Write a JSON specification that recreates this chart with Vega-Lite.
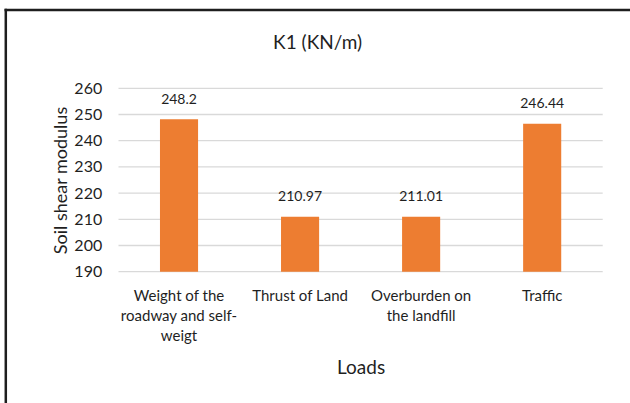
{
  "$schema": "https://vega.github.io/schema/vega-lite/v6.json",
  "width": 624.7,
  "height": 393.5,
  "autosize": "none",
  "padding": {"left": 5.3, "top": 9.5, "right": 0, "bottom": 0},
  "background": "white",
  "view": {"stroke": "transparent", "strokeWidth": 0, "fill": "white"},
  "title": {"text": "K1 (KN/m)", "font": "Lato", "fontSize": 19, "fontWeight": "normal", "color": "#1f1f1f", "anchor": "middle", "frame": "group", "baseline": "middle", "offset": -52},
  "config": {"font": "Lato", "view": {"stroke": "transparent", "strokeWidth": 0}},
  "resolve": {"axis": {"x": "independent", "y": "independent"}},
  "datasets": {
    "moduli": [
      {"load": "Weight of the roadway and self-weigt", "modulus": 248.2},
      {"load": "Thrust of Land", "modulus": 210.97},
      {"load": "Overburden on the landfill", "modulus": 211.01},
      {"load": "Traffic", "modulus": 246.44}
    ],
    "gridlines": [
      {"level": 190}, {"level": 200}, {"level": 210}, {"level": 220},
      {"level": 230}, {"level": 240}, {"level": 250}, {"level": 260}
    ]
  },
  "layer": [
    {
      "data": {"name": "gridlines"},
      "mark": {"type": "rule", "color": "#d9d9d9", "strokeWidth": 1.3},
      "encoding": {
        "x": {"datum": "Weight of the roadway and self-weigt", "type": "nominal", "bandPosition": 0,
              "scale": {"type": "band", "domain": ["Weight of the roadway and self-weigt", "Thrust of Land", "Overburden on the landfill", "Traffic"], "paddingInner": 0, "paddingOuter": 0.5803, "align": 0.8057, "round": false},
              "axis": {"orient": "top", "offset": 0, "domain": true, "domainColor": "#1e1e1e", "domainWidth": 2.5, "domainCap": "square",
                       "labels": false, "ticks": false, "grid": false, "title": null}},
        "x2": {"datum": "Traffic", "bandPosition": 1},
        "y": {"field": "level", "type": "quantitative",
              "scale": {"domain": [139.886, 290.076], "nice": false, "zero": false},
              "axis": {"orient": "left", "offset": 0, "domain": true, "domainColor": "#1e1e1e", "domainWidth": 2.5, "domainCap": "square",
                       "labels": false, "ticks": false, "grid": false, "title": null}}
      }
    },
    {
      "data": {"name": "moduli"},
      "mark": {"type": "bar", "color": "#ED7D31", "width": {"band": 0.3147}},
      "encoding": {
        "x": {"field": "load", "type": "nominal", "sort": null,
              "axis": {"orient": "bottom", "offset": -131.3, "domain": false, "ticks": false, "tickSize": 0, "grid": false,
                       "labelAngle": 0, "labelBaseline": "top", "labelPadding": 17, "labelLineHeight": 19.8,
                       "labelFont": "Lato", "labelFontSize": 15, "labelColor": "#1f1f1f", "labelLimit": 300,
                       "labelExpr": "datum.value == 'Weight of the roadway and self-weigt' ? ['Weight of the', 'roadway and self-', 'weigt'] : datum.value == 'Overburden on the landfill' ? ['Overburden on', 'the landfill'] : datum.value",
                       "title": "Loads", "titleFont": "Lato", "titleFontSize": 19, "titleFontWeight": "normal", "titleColor": "#1f1f1f",
                       "titleX": 355.3, "titleY": 95.8, "titleBaseline": "middle", "titleAlign": "center"}},
        "y": {"field": "modulus", "type": "quantitative",
              "axis": {"orient": "left", "values": [190, 200, 210, 220, 230, 240, 250, 260], "offset": -96.4,
                       "domain": false, "ticks": false, "tickSize": 0, "grid": false,
                       "labelPadding": 0, "labelFont": "Lato", "labelFontSize": 16, "labelColor": "#1f1f1f",
                       "title": "Soil shear modulus", "titleFont": "Lato", "titleFontSize": 18, "titleFontWeight": "normal", "titleColor": "#1f1f1f",
                       "titleAngle": -90, "titleX": -40, "titleY": 170.5, "titleBaseline": "middle", "titleAlign": "center"}},
        "y2": {"datum": 190}
      }
    },
    {
      "data": {"name": "moduli"},
      "mark": {"type": "text", "dy": -19.5, "baseline": "middle", "align": "center", "font": "Lato", "fontSize": 14, "color": "#1f1f1f"},
      "encoding": {
        "x": {"field": "load", "type": "nominal", "sort": null, "axis": null},
        "y": {"field": "modulus", "type": "quantitative", "axis": null},
        "text": {"field": "modulus", "type": "quantitative", "format": ".5~g"}
      }
    }
  ]
}
